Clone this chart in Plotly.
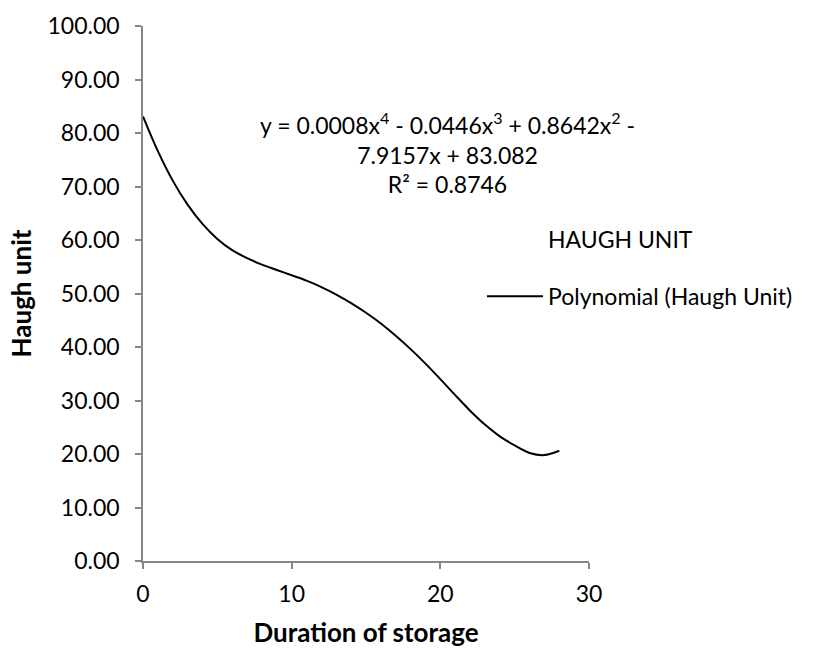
import plotly.graph_objects as go

# Polynomial trendline
days = [0, 1, 2, 3, 4, 5, 6, 7, 8, 9, 10, 11, 12, 13, 14, 15, 16, 17, 18, 19, 20,
        21, 22, 23, 24, 25, 26, 27, 28]
haugh_trend = [83.1, 76.6, 71.1, 66.6, 63.0, 60.2, 58.1, 56.6, 55.4, 54.4, 53.4,
               52.4, 51.2, 49.8, 48.2, 46.4, 44.4, 42.1, 39.6, 36.9, 34.0,
               31.0, 28.1, 25.5, 23.3, 21.6, 20.2, 19.8, 20.6]

x_ticks = [0, 10, 20, 30]
y_ticks = [0, 10, 20, 30, 40, 50, 60, 70, 80, 90, 100]

series_name = "HAUGH UNIT"
trend_name = "Polynomial (Haugh Unit)"
equation_text = ("y = 0.0008x<sup>4</sup> - 0.0446x<sup>3</sup> + 0.8642x<sup>2</sup> -<br>"
                 "7.9157x + 83.082<br>R² = 0.8746")

FONT = "Lato"
AXIS_COLOR = "#868686"

fig = go.Figure()

# Data series entry (no visible marks in the reference)
fig.add_trace(go.Scatter(
    x=[None], y=[None], mode="lines", name=series_name,
    line=dict(color="rgba(0,0,0,0)", width=0),
    legendgroup="a", showlegend=True, hoverinfo="skip",
))

fig.add_trace(go.Scatter(
    x=days, y=haugh_trend, mode="lines", name=trend_name,
    line=dict(color="black", width=2, shape="spline", smoothing=1.0),
    legendgroup="b",
))

fig.add_annotation(
    x=20.5, y=76.2, xref="x", yref="y", text=equation_text,
    showarrow=False, align="center", xanchor="center", yanchor="middle",
    font=dict(family=FONT, size=23, color="black"),
)

fig.update_layout(
    width=835, height=648,
    margin=dict(l=143, r=246, t=26, b=87, autoexpand=False),
    paper_bgcolor="white", plot_bgcolor="white",
    font=dict(family=FONT, size=23, color="black"),
    showlegend=True,
    legend=dict(
        x=482 / 835, xanchor="left", y=1 - 218 / 648, yanchor="top",
        xref="container", yref="container",
        bgcolor="rgba(0,0,0,0)",
        font=dict(family=FONT, size=23, color="black"),
        itemwidth=56, tracegroupgap=24,
        traceorder="grouped",
    ),
    xaxis=dict(
        range=[0, 30], tickvals=x_ticks, ticktext=[str(v) for v in x_ticks],
        showline=True, linecolor=AXIS_COLOR, linewidth=1.5,
        ticks="outside", tickcolor=AXIS_COLOR, ticklen=6, tickwidth=1.5,
        showgrid=False, zeroline=False, ticklabelstandoff=6, automargin=False,
        title=dict(text="<b>Duration of storage</b>", standoff=22,
                   font=dict(family=FONT, size=26)),
        tickfont=dict(family=FONT, size=23),
    ),
    yaxis=dict(
        range=[0, 100], tickvals=y_ticks, ticktext=[f"{v:.2f}" for v in y_ticks],
        showline=True, linecolor=AXIS_COLOR, linewidth=1.5,
        ticks="outside", tickcolor=AXIS_COLOR, ticklen=6, tickwidth=1.5,
        showgrid=False, zeroline=False, ticklabelstandoff=11, automargin=False,
        title=dict(text="<b>Haugh unit</b>", standoff=8,
                   font=dict(family=FONT, size=26)),
        tickfont=dict(family=FONT, size=23),
    ),
)

fig.write_html("out.html", config={"displayModeBar": False},
               post_script="document.body.style.margin='0';")
